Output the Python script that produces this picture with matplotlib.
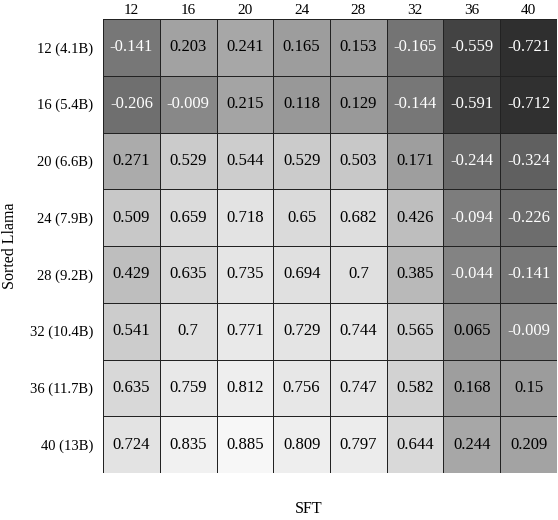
import matplotlib
matplotlib.use("Agg")
import matplotlib.pyplot as plt
import numpy as np

plt.rcParams['font.family'] = ['Liberation Serif', 'DejaVu Serif']

sft_labels = ["12", "16", "20", "24", "28", "32", "36", "40"]
sorted_labels = ["12 (4.1B)", "16 (5.4B)", "20 (6.6B)", "24 (7.9B)",
                 "28 (9.2B)", "32 (10.4B)", "36 (11.7B)", "40 (13B)"]

row_12 = [-0.141, 0.203, 0.241, 0.165, 0.153, -0.165, -0.559, -0.721]
row_16 = [-0.206, -0.009, 0.215, 0.118, 0.129, -0.144, -0.591, -0.712]
row_20 = [0.271, 0.529, 0.544, 0.529, 0.503, 0.171, -0.244, -0.324]
row_24 = [0.509, 0.659, 0.718, 0.65, 0.682, 0.426, -0.094, -0.226]
row_28 = [0.429, 0.635, 0.735, 0.694, 0.7, 0.385, -0.044, -0.141]
row_32 = [0.541, 0.7, 0.771, 0.729, 0.744, 0.565, 0.065, -0.009]
row_36 = [0.635, 0.759, 0.812, 0.756, 0.747, 0.582, 0.168, 0.15]
row_40 = [0.724, 0.835, 0.885, 0.809, 0.797, 0.644, 0.244, 0.209]

data = np.array([row_12, row_16, row_20, row_24, row_28, row_32, row_36, row_40])

fig = plt.figure(figsize=(5.58, 5.20), dpi=100)
ax = fig.add_axes([0.1846, 0.0904, 0.8136, 0.873])
ax.pcolormesh(data, cmap='gray', vmin=-1.1, vmax=0.95, edgecolors='#222222', linewidth=0.6)
ax.set_xlim(0, data.shape[1])
ax.set_ylim(data.shape[0], 0)

for i in range(data.shape[0]):
    for j in range(data.shape[1]):
        v = data[i, j]
        ax.text(j + 0.5, i + 0.5, f"{v:g}", ha='center', va='center',
                fontsize=12, color='white' if v < 0 else 'black')

ax.set_xticks(np.arange(data.shape[1]) + 0.5)
ax.set_xticklabels(sft_labels, fontsize=11)
ax.set_yticks(np.arange(data.shape[0]) + 0.5)
ax.set_yticklabels(sorted_labels, fontsize=10.5)
ax.xaxis.tick_top()
ax.tick_params(axis='y', length=0, pad=7)
ax.tick_params(axis='x', length=0, pad=1.5)
ax.xaxis.set_label_position('bottom')
ax.set_xlabel("SFT", fontsize=11.5)
ax.xaxis.set_label_coords(0.454, -0.062)
ax.set_ylabel("Sorted Llama", fontsize=11.5)
ax.yaxis.set_label_coords(-0.187, 0.5)
for s in ax.spines.values():
    s.set_visible(False)

fig.savefig("out.png", dpi=100)
